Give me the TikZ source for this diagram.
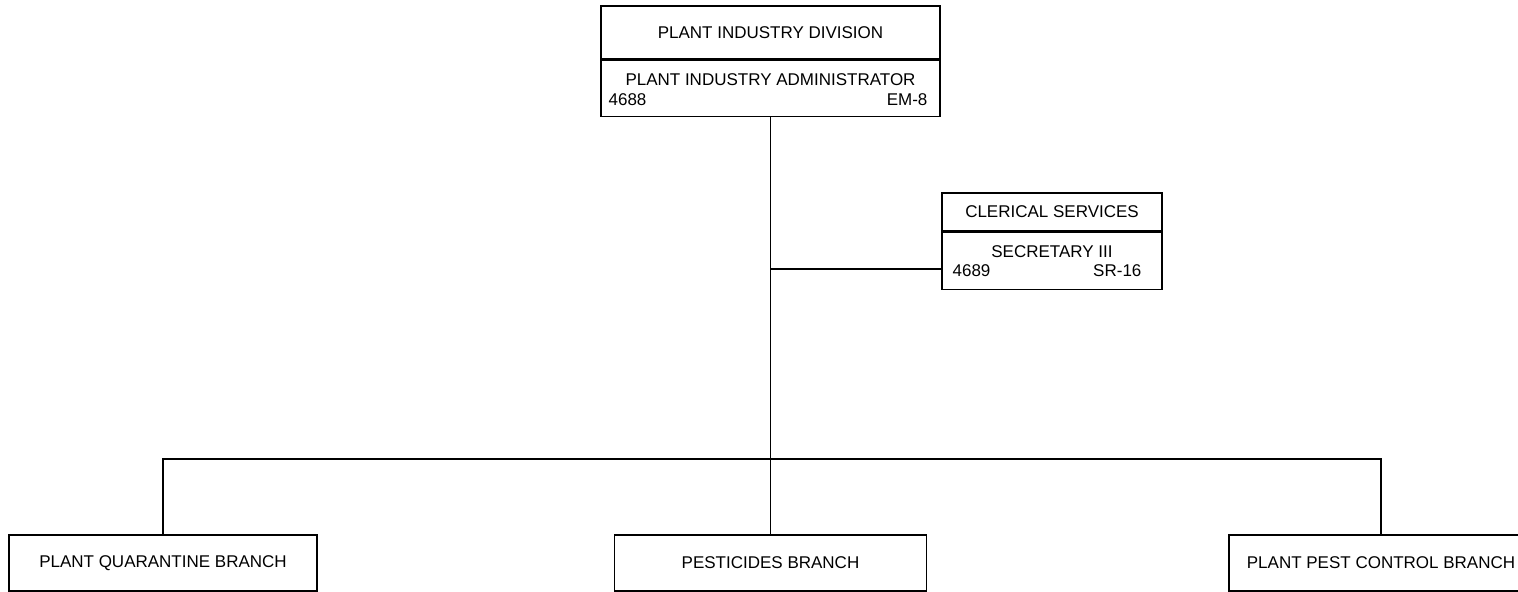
\documentclass[tikz,border=0pt]{standalone}
\usepackage{fontspec}
\setmainfont{Liberation Sans}
\usetikzlibrary{positioning}
\tikzset{
	unit/.style={draw, rectangle, inner sep=0pt, line width=0.8pt, font=\fontsize{8.5}{10}\selectfont},
	txt/.style={inner sep=0pt, font=\fontsize{8.5}{10}\selectfont},
	link/.style={line width=0.8pt}
}

\begin{document}
\begin{tikzpicture}[x=0.5pt, y=-0.5pt]
		%%%%% START %%%%%
		\useasboundingbox (0, 0) rectangle (1518, 592);
		
		% head of division
		\node[unit, minimum width=169.5pt, minimum height=26.5pt] (div) at (770.5, 32.5) {PLANT INDUSTRY DIVISION};
		\node[unit, minimum width=169.5pt, minimum height=28pt, below=0pt of div] (adm) {};
		\node[txt, anchor=base] (admt) at ([yshift=-13pt]adm.north) {PLANT INDUSTRY ADMINISTRATOR};
		\node[txt, anchor=base west] (admn) at ([xshift=4pt, yshift=6pt]adm.south west) {4688};
		\node[txt, anchor=base east] (admg) at ([xshift=-6.5pt, yshift=6pt]adm.south east) {EM-8};
		
		% clerical staff
		\node[unit, minimum width=110pt, minimum height=19pt] (cls) at (1052, 212) {CLERICAL SERVICES};
		\node[unit, minimum width=110pt, minimum height=28.5pt, below=0pt of cls] (sec) {};
		\node[txt, anchor=base] (sect) at ([yshift=-13pt]sec.north) {SECRETARY III};
		\node[txt, anchor=base west] (secn) at ([xshift=5.5pt, yshift=7pt]sec.south west) {4689};
		\node[txt, anchor=base east] (secg) at ([xshift=-10.5pt, yshift=7pt]sec.south east) {SR-16};
		
		% branches
		\node[unit, minimum width=154pt, minimum height=28pt] (pqb) at (163, 563) {PLANT QUARANTINE BRANCH};
		\node[unit, minimum width=156pt, minimum height=28pt] (pes) at (770.5, 563) {PESTICIDES BRANCH};
		\node[unit, minimum width=152pt, minimum height=28pt] (ppc) at (1381, 563) {PLANT PEST CONTROL BRANCH};
		
		% connectors
		\coordinate (jc) at (770.5, 269);
		\coordinate (bus) at (770.5, 459);
		\draw[link] (adm.south) -- (pes.north);
		\draw[link] (jc) -- (jc -| sec.west);
		\draw[link] (pqb.north) |- (bus) -| (ppc.north);
		
		%%%%% END %%%%%
	\end{tikzpicture}
\end{document}
